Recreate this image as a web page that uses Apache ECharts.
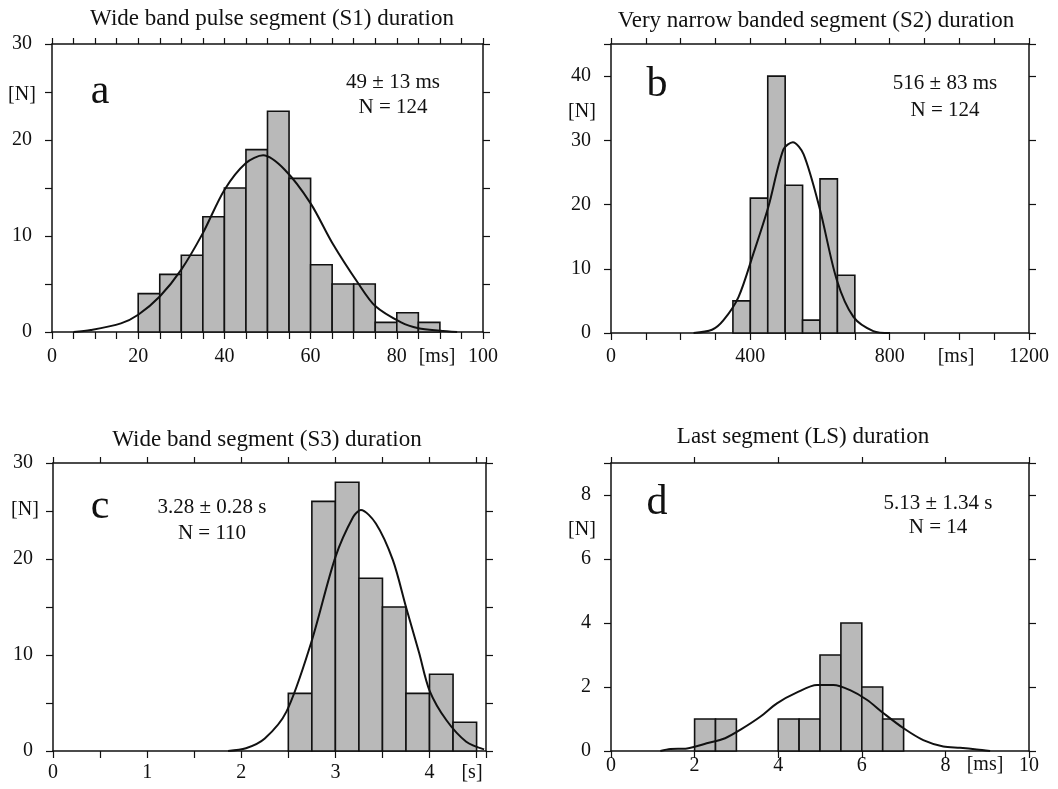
<!DOCTYPE html>
<html>
<head>
<meta charset="utf-8">
<script src="https://cdn.jsdelivr.net/npm/echarts@6/dist/echarts.min.js"></script>
<style>
html,body{margin:0;padding:0;background:#fff;}
#main{width:1058px;height:789px;}
</style>
</head>
<body>
<div id="main"></div>
<script>
// ---------------- DATA ----------------
// Panel a: S1 duration (ms)
const aBinStart = [20,25,30,35,40,45,50,55,60,65,70,75,80,85];
const aBinWidth = 5;
const aCounts   = [4,6,8,12,15,19,23,16,7,5,5,1,2,1];
const aCurveX = [5,9,16,20,25,30,35,40,45,49,54,60,65,71,75,81,85,90,94];
const aCurveY = [0,0.2,0.9,1.8,3.7,6.5,10.3,14.8,17.6,18.4,16.9,13.4,9.3,5.1,2.7,1.0,0.4,0.14,0];
const aXLabels = [0,20,40,60,80,100];
const aYLabels = [0,10,20,30];

// Panel b: S2 duration (ms)
const bBinStart = [350,400,450,500,550,600,650];
const bBinWidth = 50;
const bCounts   = [5,21,40,23,2,24,9];
const bCurveX = [237,290,323,366,409,452,495,522,553,600,648,696,753,801];
const bCurveY = [0,0.5,2.0,5.6,12.4,19.7,28.6,29.7,27.8,19.2,8.3,2.5,0.3,0];
const bXLabels = [0,400,800,1200];
const bYLabels = [0,10,20,30,40];

// Panel c: S3 duration (s)
const cBinStart = [2.5,2.75,3.0,3.25,3.5,3.75,4.0,4.25];
const cBinWidth = 0.25;
const cCounts   = [6,26,28,18,15,6,8,3];
const cCurveX = [1.86,2.05,2.25,2.48,2.74,3.0,3.19,3.27,3.43,3.61,3.75,3.89,4.0,4.18,4.39,4.58];
const cCurveY = [0,0.28,1.3,4.1,11.2,20.2,24.4,25.1,23.7,19.9,15.0,10.2,6.3,3.2,0.97,0.17];
const cXLabels = [0,1,2,3,4];
const cYLabels = [0,10,20,30];

// Panel d: LS duration
const dBinStart = [2,2.5,4,4.5,5,5.5,6,6.5];
const dBinWidth = 0.5;
const dCounts   = [1,1,1,1,3,4,2,1];
const dCurveX = [1.18,1.42,1.82,2.29,2.73,3.09,3.57,3.97,4.45,4.93,5.32,5.72,6.12,6.52,7.0,7.47,7.95,8.35,8.75,9.07];
const dCurveY = [0,0.06,0.08,0.24,0.4,0.66,1.07,1.49,1.83,2.06,2.06,1.9,1.6,1.18,0.71,0.34,0.14,0.1,0.05,0];
const dXLabels = [0,2,4,6,8,10];
const dYLabels = [0,2,4,6,8];

const titles  = ['Wide band pulse segment (S1) duration','Very narrow banded segment (S2) duration','Wide band segment (S3) duration','Last segment (LS) duration'];
const letters = ['a','b','c','d'];
const statLines = [['49 \u00b1 13 ms','N = 124'],['516 \u00b1 83 ms','N = 124'],['3.28 \u00b1 0.28 s','N = 110'],['5.13 \u00b1 1.34 s','N = 14']];
const unitLabels = ['[ms]','[ms]','[s]','[ms]'];
const yUnitLabel = '[N]';

// ---------------- LAYOUT / STYLE ----------------
const FONT = '"Liberation Serif", "DejaVu Serif", serif';
const TICK_FS = 20;
const panels = [
  {bins:aBinStart,w:aBinWidth,counts:aCounts,cx:aCurveX,cy:aCurveY,xl:aXLabels,yl:aYLabels,
   grid:{left:52,top:44,width:431,height:288}, xmax:100,xint:5,ymax:30,yint:5,txint:5,ryint:5, xmargin:15,
   title:[272,19], letter:[100,92], stats:[393,82,107], ylab:[22,95], unit:[437,357]},
  {bins:bBinStart,w:bBinWidth,counts:bCounts,cx:bCurveX,cy:bCurveY,xl:bXLabels,yl:bYLabels,
   grid:{left:611,top:44,width:418,height:289}, xmax:1200,xint:100,ymax:45,yint:10,txint:100,ryint:10, xmargin:14,
   title:[816,21], letter:[657,85], stats:[945,83,110], ylab:[582,112], unit:[956,357]},
  {bins:cBinStart,w:cBinWidth,counts:cCounts,cx:cCurveX,cy:cCurveY,xl:cXLabels,yl:cYLabels,
   grid:{left:53,top:463,width:433,height:288}, xmax:4.6,xint:0.5,ymax:30,yint:5,txint:0.5,ryint:5, xmargin:12,
   title:[267,440], letter:[100,507], stats:[212,507,533], ylab:[25,510], unit:[472,773]},
  {bins:dBinStart,w:dBinWidth,counts:dCounts,cx:dCurveX,cy:dCurveY,xl:dXLabels,yl:dYLabels,
   grid:{left:611,top:463,width:418,height:288}, xmax:10,xint:2,ymax:9,yint:2,txint:2,ryint:2, xmargin:5,
   title:[803,437], letter:[657,503], stats:[938,503,527], ylab:[582,530], unit:[985,765]}
];

function inList(list, v){ return list.some(t => Math.abs(t - v) < 1e-6); }

const grids=[], xAxes=[], yAxes=[], series=[], graphics=[];
const lineStyle = {color:'#111', width:1.5};
panels.forEach((p,i)=>{
  grids.push(Object.assign({show:false, containLabel:false}, p.grid));
  // bottom x
  xAxes.push({type:'value', gridIndex:i, position:'bottom', min:0, max:p.xmax, interval:p.xint,
    axisLine:{show:true,onZero:false,lineStyle}, splitLine:{show:false},
    axisTick:{show:true,inside:false,length:7,lineStyle:{color:'#111',width:1.2}},
    axisLabel:{show:true, margin:p.xmargin, color:'#111', fontFamily:FONT, fontSize:TICK_FS,
      showMinLabel:true, showMaxLabel:true, hideOverlap:false,
      formatter:(v)=> inList(p.xl, v) ? String(v) : ''}});
  // top x
  xAxes.push({type:'value', gridIndex:i, position:'top', min:0, max:p.xmax, interval:p.txint,
    axisLine:{show:true,onZero:false,lineStyle}, splitLine:{show:false},
    axisTick:{show:true,inside:false,length:6,lineStyle:{color:'#111',width:1.2}},
    axisLabel:{show:false}});
  // left y
  yAxes.push({type:'value', gridIndex:i, position:'left', min:0, max:p.ymax, interval:p.yint,
    axisLine:{show:true,onZero:false,lineStyle}, splitLine:{show:false},
    axisTick:{show:true,inside:false,length:7,lineStyle:{color:'#111',width:1.2}},
    axisLabel:{show:true, margin:20, color:'#111', fontFamily:FONT, fontSize:TICK_FS,
      showMinLabel:true, showMaxLabel:true, hideOverlap:false,
      formatter:(v)=> inList(p.yl, v) ? String(v) : ''}});
  // right y
  yAxes.push({type:'value', gridIndex:i, position:'right', min:0, max:p.ymax, interval:p.ryint,
    axisLine:{show:true,onZero:false,lineStyle}, splitLine:{show:false},
    axisTick:{show:true,inside:false,length:7,lineStyle:{color:'#111',width:1.2}},
    axisLabel:{show:false}});

  series.push({type:'custom', xAxisIndex:2*i, yAxisIndex:2*i, z:2,
    data: p.bins.map((s,k)=>[s, s+p.w, p.counts[k]]),
    encode:{x:[0,1], y:2},
    renderItem:(params, api)=>{
      const tl = api.coord([api.value(0), api.value(2)]);
      const br = api.coord([api.value(1), 0]);
      return {type:'rect', shape:{x:tl[0], y:tl[1], width:br[0]-tl[0], height:br[1]-tl[1]},
        style:{fill:'#b9b9b9', stroke:'#111', lineWidth:1.6}};
    }});
  series.push({type:'line', xAxisIndex:2*i, yAxisIndex:2*i, z:5, symbol:'none', smooth:0.3,
    data: p.cx.map((x,k)=>[x, p.cy[k]]),
    lineStyle:{color:'#111', width:2}});

  const txt = (x,y,text,size,align)=>({type:'text', x, y, z:100,
    style:{text, fontFamily:FONT, fontSize:size, fill:'#111', align:align||'center', verticalAlign:'middle'}});
  graphics.push(txt(p.title[0], p.title[1], titles[i], 23));
  graphics.push(txt(p.letter[0], p.letter[1], letters[i], 42));
  graphics.push(txt(p.stats[0], p.stats[1], statLines[i][0], 21));
  graphics.push(txt(p.stats[0], p.stats[2], statLines[i][1], 21));
  graphics.push(txt(p.ylab[0], p.ylab[1], yUnitLabel, 20));
  graphics.push(txt(p.unit[0], p.unit[1], unitLabels[i], 20));
});

const chart = echarts.init(document.getElementById('main'));
chart.setOption({
  animation:false,
  backgroundColor:'#fff',
  grid:grids, xAxis:xAxes, yAxis:yAxes, series:series, graphic:graphics
});
</script>
</body>
</html>
